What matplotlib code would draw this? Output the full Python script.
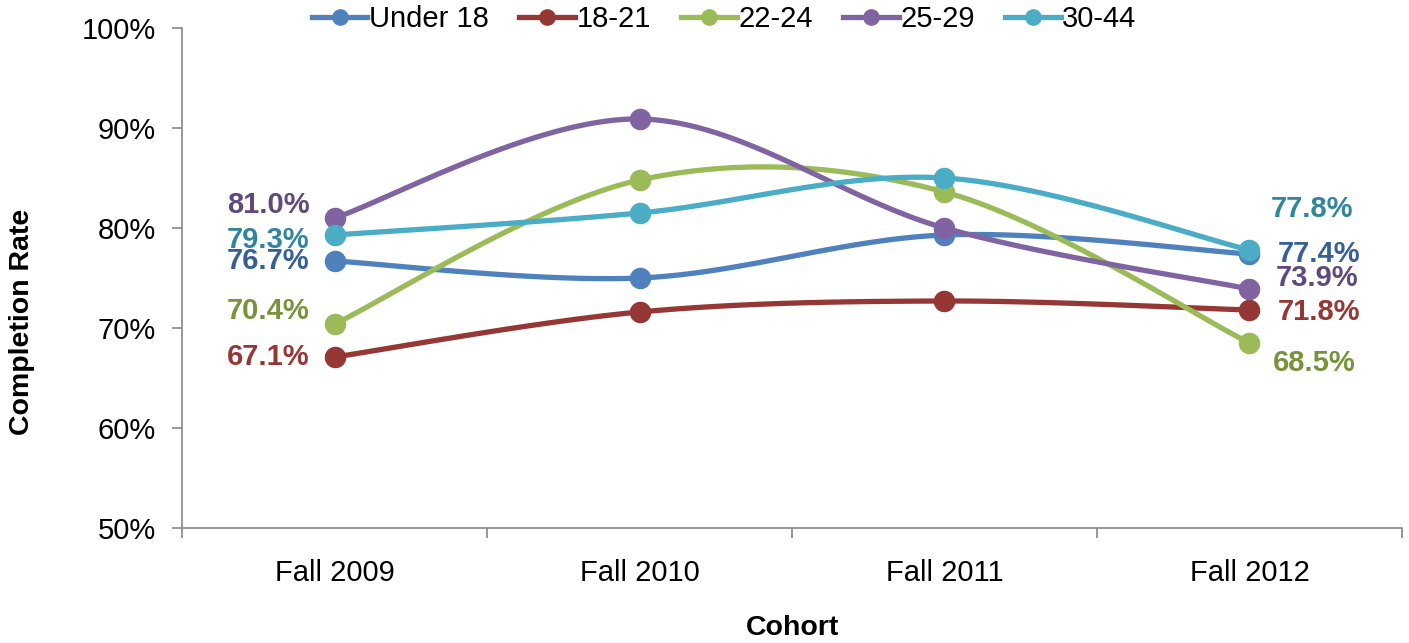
import numpy as np
import matplotlib
matplotlib.use("Agg")
import matplotlib.pyplot as plt

plt.rcParams['font.family'] = ['Liberation Sans', 'DejaVu Sans']

cohorts = ["Fall 2009", "Fall 2010", "Fall 2011", "Fall 2012"]
series_names = ["Under 18", "18-21", "22-24", "25-29", "30-44"]
under18 = [76.7, 75.0, 79.3, 77.4]
age18_21 = [67.1, 71.6, 72.7, 71.8]
age22_24 = [70.4, 84.8, 83.6, 68.5]
age25_29 = [81.0, 90.9, 80.0, 73.9]
age30_44 = [79.3, 81.5, 85.0, 77.8]

line_colors = ["#4F81BD", "#953735", "#9BBB59", "#8064A2", "#4BACC6"]
label_colors = ["#376092", "#953735", "#77933C", "#604A7B", "#31859C"]

# label offsets in pixels (first point, last point)
first_off = [(-25, 0), (-25, 0), (-25, 13), (-25, 13), (-25, -5)]
last_off = [(28, 0), (28, -2), (23, -20), (26, 11), (21, 41)]


def excel_smooth(x, y, n=40):
    # bezier smoothing like excel's "smoothed line"
    x = np.asarray(x, float)
    y = np.asarray(y, float)
    px = np.concatenate([[x[0]], x, [x[-1]]])
    py = np.concatenate([[y[0]], y, [y[-1]]])
    xs, ys = [], []
    t = np.linspace(0, 1, n)
    for i in range(len(x) - 1):
        p0 = np.array([x[i], y[i]])
        p3 = np.array([x[i + 1], y[i + 1]])
        c1 = p0 + (np.array([px[i + 2], py[i + 2]]) - np.array([px[i], py[i]])) / 6
        c2 = p3 - (np.array([px[i + 3], py[i + 3]]) - np.array([px[i + 1], py[i + 1]])) / 6
        b = ((1 - t) ** 3)[:, None] * p0 + (3 * (1 - t) ** 2 * t)[:, None] * c1 \
            + (3 * (1 - t) * t ** 2)[:, None] * c2 + (t ** 3)[:, None] * p3
        xs.extend(b[:, 0])
        ys.extend(b[:, 1])
    return np.array(xs), np.array(ys)


fig = plt.figure(figsize=(14.09, 6.43), dpi=100)
ax = fig.add_axes([0.1292, 0.1788, 0.8658, 0.7777])

xpos = np.arange(len(cohorts))
all_series = [under18, age18_21, age22_24, age25_29, age30_44]
handles = []
for vals, name, lc, tc, fo, lo in zip(all_series, series_names, line_colors, label_colors, first_off, last_off):
    sx, sy = excel_smooth(xpos, vals)
    ax.plot(sx, sy, color=lc, lw=3.8, solid_capstyle='round', zorder=2)
    ax.plot(xpos, vals, 'o', color=lc, ms=14.5, zorder=3)
    h, = ax.plot([], [], '-o', color=lc, lw=3.8, ms=11, label=name)
    handles.append(h)
    ax.annotate("%.1f%%" % vals[0], (xpos[0], vals[0]), xytext=fo, textcoords='offset pixels',
                ha='right', va='center', color=tc, fontsize=21, fontweight='bold')
    ax.annotate("%.1f%%" % vals[-1], (xpos[-1], vals[-1]), xytext=lo, textcoords='offset pixels',
                ha='left', va='center', color=tc, fontsize=21, fontweight='bold')

ax.set_xlim(-0.5, len(cohorts) - 0.5)
ax.set_ylim(50, 100)
ax.set_yticks(np.arange(50, 101, 10))
ax.set_yticklabels(["%d%%" % v for v in range(50, 101, 10)])
ax.set_xticks(xpos)
ax.set_xticklabels(cohorts)
ax.set_xticks(np.arange(-0.5, len(cohorts), 1), minor=True)
ax.tick_params(axis='x', which='major', length=0, pad=22, labelsize=21)
ax.tick_params(axis='x', which='minor', length=7, color='#868686', width=1.2, direction='out')
ax.tick_params(axis='y', length=7, color='#868686', width=1.2, pad=12, labelsize=21)

for s in ['top', 'right']:
    ax.spines[s].set_visible(False)
for s in ['left', 'bottom']:
    ax.spines[s].set_color('#868686')
    ax.spines[s].set_linewidth(1.2)

# axis titles
fig.text(22 / 1409, 0.499, "Completion Rate", rotation=90, ha='center', va='center',
         fontsize=20.5, fontweight='bold')
fig.text(0.5622, 0.024, "Cohort", ha='center', va='center', fontsize=20.5, fontweight='bold')

fig.legend(handles=handles, loc='center', bbox_to_anchor=(0.514, 0.970), ncol=5,
           frameon=False, fontsize=21, handlelength=1.9, handletextpad=0.05,
           columnspacing=1.05, borderpad=0)

fig.savefig("out.png", dpi=100)
